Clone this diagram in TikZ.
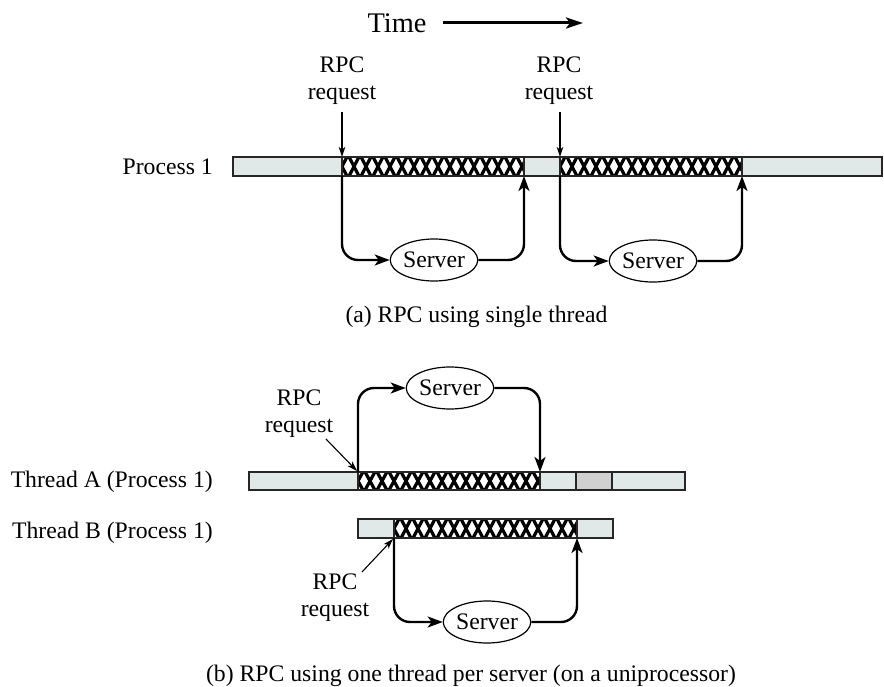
\documentclass[tikz,border=0pt]{standalone}
\usepackage{fontspec}
\setmainfont{Liberation Serif}
\usetikzlibrary{arrows.meta,shapes.geometric}
\definecolor{barlight}{RGB}{225,232,232}
\definecolor{bargray}{RGB}{208,208,208}
\newcommand\xhatch[4]{%
  \begin{scope}
    \clip (#1,#2) rectangle (#3,#4);
    \fill[white] (#1,#2) rectangle (#3,#4);
    \foreach \k in {0,...,17}{
      \draw[line width=3.2pt] ({#1+12*\k-6},#2-2) -- ({#1+12*\k+6},#4+2);
      \draw[line width=3.2pt] ({#1+12*\k+6},#2-2) -- ({#1+12*\k-6},#4+2);
    }
  \end{scope}
  \draw[barborder] (#1,#2) rectangle (#3,#4);
}
\begin{document}
\begin{tikzpicture}[x=1pt,y=-1pt,
  txt/.style={font=\fontsize{23.7}{27}\selectfont, inner sep=0pt},
  reqtxt/.style={txt, align=center, anchor=north},
  barborder/.style={draw=black!85, line width=1.3pt},
  barfill/.style={fill=barlight, barborder},
  server/.style={draw, ellipse, line width=1.2pt, minimum width=87pt, minimum height=42pt, inner sep=0pt, font=\fontsize{23.7}{27}\selectfont},
  loop/.style={line width=2.4pt, rounded corners=16pt, -{Stealth[length=15pt,width=11pt,inset=4pt]}},
  thinarrow/.style={line width=1.1pt, -{Stealth[length=10pt,width=6.5pt,inset=2.5pt]}},
  timearrow/.style={line width=3pt, -{Stealth[length=17pt,width=11pt,inset=4pt]}}
]
\useasboundingbox (0,0) rectangle (884,687);

% Time
\node[txt, font=\fontsize{28.4}{32}\selectfont, anchor=base] (time) at (397,33) {Time};
\coordinate (timeend) at (583,23);
\draw[timearrow] (443,23) coordinate (timestart) -- (timeend);

% ---------- (a) ----------
\node[txt, anchor=base east] (p1lab) at (213,174.5) {Process 1};
\draw[barfill] (233,157) rectangle (882,176);
\xhatch{342}{157}{524}{176}
\xhatch{560}{157}{742}{176}

\node[reqtxt] (req1) at (342,57) {RPC\\request};
\node[reqtxt] (req2) at (559,57) {RPC\\request};
\coordinate (r1tip) at (342,157);
\coordinate (r2tip) at (560,157);
\draw[thinarrow] ([yshift=-7pt]req1.south) -- (r1tip);
\draw[thinarrow] ([yshift=-7pt]req2.south -| r2tip) -- (r2tip);

\node[server] (s1) at (434,260) {Server};
\node[server] (s2) at (653,261) {Server};
\coordinate (a1in) at (342,176);
\coordinate (a1out) at (524,176);
\coordinate (a2in) at (560,176);
\coordinate (a2out) at (742,176);
\draw[loop] (a1in) |- (s1.west);
\draw[loop] (s1.east) -| (a1out);
\draw[loop] (a2in) |- (s2.west);
\draw[loop] (s2.east) -| (a2out);

\node[txt, anchor=base] (capa) at (476.5,322.5) {(a) RPC using single thread};

% ---------- (b) ----------
\node[txt, anchor=base east] (talab) at (213,487) {Thread A (Process 1)};
\node[txt, anchor=base east] (tblab) at (213,538) {Thread B (Process 1)};

\draw[barfill] (249,472) rectangle (685,490);
\xhatch{358}{472}{540}{490}
\draw[barborder, fill=bargray] (576,472) rectangle (612,490);

\draw[barfill] (358,519) rectangle (613,538);
\xhatch{394}{519}{577}{538}

\node[server] (s3) at (450,388) {Server};
\node[server] (s4) at (487,622) {Server};
\coordinate (b1in) at (358,472);
\coordinate (b1out) at (540,472);
\coordinate (b2in) at (394,538);
\coordinate (b2out) at (577,538);
\draw[loop] (b1in) |- (s3.west);
\draw[loop] (s3.east) -| (b1out);
\draw[loop] (b2in) |- (s4.west);
\draw[loop] (s4.east) -| (b2out);

\node[reqtxt] (req3) at (299,390) {RPC\\request};
\node[reqtxt] (req4) at (335,574) {RPC\\request};
\coordinate (r3start) at (326,439);
\coordinate (r3tip) at (357,471);
\coordinate (r4start) at (362,572);
\coordinate (r4tip) at (393,539);
\draw[thinarrow] (r3start) -- (r3tip);
\draw[thinarrow] (r4start) -- (r4tip);

\node[txt, anchor=base] (capb) at (471,681) {(b) RPC using one thread per server (on a uniprocessor)};
\end{tikzpicture}
\end{document}
